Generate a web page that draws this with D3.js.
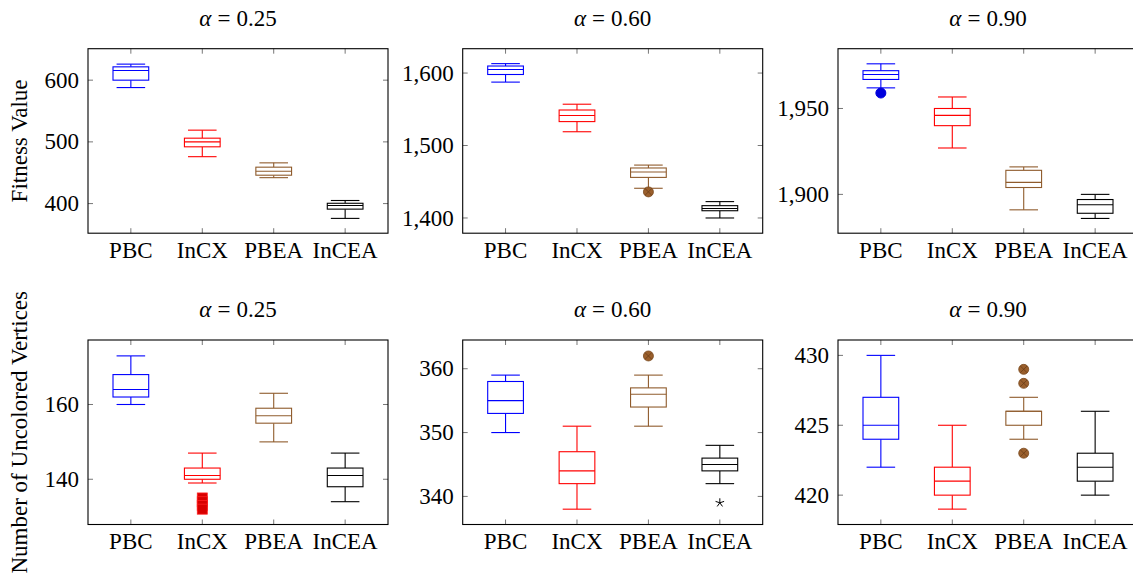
<!DOCTYPE html>
<html>
<head>
<meta charset="utf-8">
<script src="https://cdn.jsdelivr.net/npm/d3@7"></script>
<style>
  html, body { margin: 0; padding: 0; background: #fff; }
  svg { display: block; }
  text, tspan { font-family: "Liberation Serif", "Times New Roman", serif; fill: #000; }
</style>
</head>
<body>
<svg id="chart" width="1133" height="580"></svg>
<script>
// ---------- data ----------
const categories = ["PBC", "InCX", "PBEA", "InCEA"];
const alphas = ["0.25", "0.60", "0.90"];
const yLabels = ["Fitness Value", "Number of Uncolored Vertices"];

// each box: [lowerWhisker, q1, median, q3, upperWhisker]
const fit025 = [[588, 600, 615.7, 621.6, 626], [476, 492, 500, 506, 519], [442, 446, 452.5, 459, 466], [376, 391, 397, 400.5, 405]];
const fit060 = [[1587.5, 1598, 1605, 1609.7, 1613], [1519, 1533, 1541.5, 1549, 1557], [1441, 1456, 1463.5, 1469, 1473], [1400, 1410, 1413, 1417, 1422.6]];
const fit090 = [[1962, 1966.9, 1969.8, 1972, 1976], [1927, 1940, 1946, 1950, 1956.7], [1891, 1904, 1907, 1914, 1916], [1886, 1889, 1894, 1897, 1900]];
const unc025 = [[160, 162, 164, 168, 173], [139, 140, 141, 143, 147], [150, 155, 157, 159, 163], [134, 138, 141, 143, 147]];
const unc060 = [[350, 353, 355, 358, 359], [338, 342, 344, 347, 351], [351, 354, 356, 357, 359], [342, 344, 345, 346, 348]];
const unc090 = [[422, 424, 425, 427, 430], [419, 420, 421, 422, 425], [424, 425, 426, 426, 427], [420, 421, 422, 423, 426]];

// outliers per box (category index order)
const fit025Out = [[], [], [], []];
const fit060Out = [[], [], [1436], []];
const fit090Out = [[1959], [], [], []];
const unc025Out = [[], [135, 134, 133, 132], [], []];
const unc060Out = [[], [], [362], [339]];
const unc090Out = [[], [], [429, 428, 423], []];

// axis limits and ticks
const fit025Dom = [352, 651],   fit025Ticks = [400, 500, 600];
const fit060Dom = [1379, 1633.6], fit060Ticks = [1400, 1500, 1600];
const fit090Dom = [1877.4, 1984.8], fit090Ticks = [1900, 1950];
const unc025Dom = [127.9, 177.25], unc025Ticks = [140, 160];
const unc060Dom = [335.6, 364.5], unc060Ticks = [340, 350, 360];
const unc090Dom = [417.9, 431.1], unc090Ticks = [420, 425, 430];

// ---------- styles ----------
const colors = ["#0000ff", "#ff0000", "#8f5b2c", "#000000"];
const outlierMarks = ["circle", "square", "otimes", "asterisk"];

const panels = [
  {row: 0, col: 0, boxes: fit025, outs: fit025Out, dom: fit025Dom, ticks: fit025Ticks},
  {row: 0, col: 1, boxes: fit060, outs: fit060Out, dom: fit060Dom, ticks: fit060Ticks},
  {row: 0, col: 2, boxes: fit090, outs: fit090Out, dom: fit090Dom, ticks: fit090Ticks},
  {row: 1, col: 0, boxes: unc025, outs: unc025Out, dom: unc025Dom, ticks: unc025Ticks},
  {row: 1, col: 1, boxes: unc060, outs: unc060Out, dom: unc060Dom, ticks: unc060Ticks},
  {row: 1, col: 2, boxes: unc090, outs: unc090Out, dom: unc090Dom, ticks: unc090Ticks}
];

const colLeft = [88, 462.7, 838];
const rowTop = [48.7, 340];
const PW = 300, PH = 184.5;
const FS = 23;
const SERIF = '"Liberation Serif", "Times New Roman", serif';

const svg = d3.select("#chart");
const fmt = d3.format(",");

panels.forEach(p => {
  const x0 = colLeft[p.col], y0 = rowTop[p.row];
  const g = svg.append("g").attr("transform", `translate(${x0},${y0})`);
  const x = d3.scaleLinear().domain([0.4, 4.6]).range([0, PW]);
  const y = d3.scaleLinear().domain(p.dom).range([PH, 0]);
  const tickLen = 5;

  // title
  const t = svg.append("text")
    .attr("x", x0 + PW / 2).attr("y", y0 - 23)
    .attr("text-anchor", "middle")
    .attr("font-family", SERIF)
    .style("font-size", FS + "px");
  t.append("tspan").attr("font-family", SERIF).style("font-style", "italic").text("α");
  t.append("tspan").attr("font-family", SERIF).attr("dx", 6).text("=");
  t.append("tspan").attr("font-family", SERIF).attr("dx", 6).text(alphas[p.col]);

  // ticks (inward on all sides)
  const tickCol = "#777";
  const xt = [1, 2, 3, 4];
  xt.forEach(v => {
    g.append("line").attr("x1", x(v)).attr("x2", x(v)).attr("y1", PH).attr("y2", PH - tickLen)
      .attr("stroke", tickCol).attr("stroke-width", 1);
    g.append("line").attr("x1", x(v)).attr("x2", x(v)).attr("y1", 0).attr("y2", tickLen)
      .attr("stroke", tickCol).attr("stroke-width", 1);
  });
  p.ticks.forEach(v => {
    g.append("line").attr("x1", 0).attr("x2", tickLen).attr("y1", y(v)).attr("y2", y(v))
      .attr("stroke", tickCol).attr("stroke-width", 1);
    g.append("line").attr("x1", PW).attr("x2", PW - tickLen).attr("y1", y(v)).attr("y2", y(v))
      .attr("stroke", tickCol).attr("stroke-width", 1);
    g.append("text").attr("x", -9).attr("y", y(v)).attr("dy", "0.33em")
      .attr("text-anchor", "end").style("font-size", FS + "px").text(fmt(v));
  });
  categories.forEach((c, i) => {
    g.append("text").attr("x", x(i + 1)).attr("y", PH + 24.6)
      .attr("text-anchor", "middle").style("font-size", FS + "px").text(c);
  });

  // boxes
  const bw = x(1.25) - x(1), cw = x(1.2) - x(1);
  p.boxes.forEach((b, i) => {
    const cx = x(i + 1), col = colors[i];
    const bg = g.append("g").attr("stroke", col).attr("stroke-width", 1.1).attr("fill", "none");
    bg.append("line").attr("x1", cx).attr("x2", cx).attr("y1", y(b[0])).attr("y2", y(b[1]));
    bg.append("line").attr("x1", cx).attr("x2", cx).attr("y1", y(b[3])).attr("y2", y(b[4]));
    bg.append("line").attr("x1", cx - cw).attr("x2", cx + cw).attr("y1", y(b[0])).attr("y2", y(b[0]));
    bg.append("line").attr("x1", cx - cw).attr("x2", cx + cw).attr("y1", y(b[4])).attr("y2", y(b[4]));
    bg.append("rect").attr("x", cx - bw).attr("width", 2 * bw)
      .attr("y", y(b[3])).attr("height", y(b[1]) - y(b[3])).attr("fill", "#fff");
    bg.append("line").attr("x1", cx - bw).attr("x2", cx + bw).attr("y1", y(b[2])).attr("y2", y(b[2]));

    // outliers
    p.outs[i].forEach(v => {
      const oy = y(v), mk = outlierMarks[i];
      if (mk === "circle") {
        g.append("circle").attr("cx", cx).attr("cy", oy).attr("r", 5)
          .attr("fill", "#0000dd").attr("stroke", "#0000dd");
      } else if (mk === "square") {
        g.append("rect").attr("x", cx - 5).attr("y", oy - 5).attr("width", 10).attr("height", 10)
          .attr("fill", "#d80000").attr("stroke", "#ff2020").attr("stroke-width", 0.8);
      } else if (mk === "otimes") {
        g.append("circle").attr("cx", cx).attr("cy", oy).attr("r", 5)
          .attr("fill", "#9a5f2c").attr("stroke", "#7a4a20").attr("stroke-width", 0.8);
        const d = 3.4;
        g.append("path").attr("d", `M${cx - d},${oy - d}L${cx + d},${oy + d}M${cx - d},${oy + d}L${cx + d},${oy - d}`)
          .attr("stroke", "#6b3e18").attr("stroke-width", 0.8);
      } else {
        let path = "";
        for (let k = 0; k < 5; k++) {
          const a = -Math.PI / 2 + k * 2 * Math.PI / 5;
          path += `M${cx},${oy}L${cx + 4.5 * Math.cos(a)},${oy + 4.5 * Math.sin(a)}`;
        }
        g.append("path").attr("d", path).attr("stroke", "#000").attr("stroke-width", 1);
      }
    });
  });

  // frame
  g.append("rect").attr("x", 0).attr("y", 0).attr("width", PW).attr("height", PH)
    .attr("fill", "none").attr("stroke", "#000").attr("stroke-width", 1.1);
});

// y axis titles
yLabels.forEach((lab, r) => {
  const cy = rowTop[r] + PH / 2;
  svg.append("text").attr("transform", `translate(27,${cy}) rotate(-90)`)
    .attr("text-anchor", "middle").style("font-size", FS + "px").text(lab);
});
</script>
</body>
</html>
